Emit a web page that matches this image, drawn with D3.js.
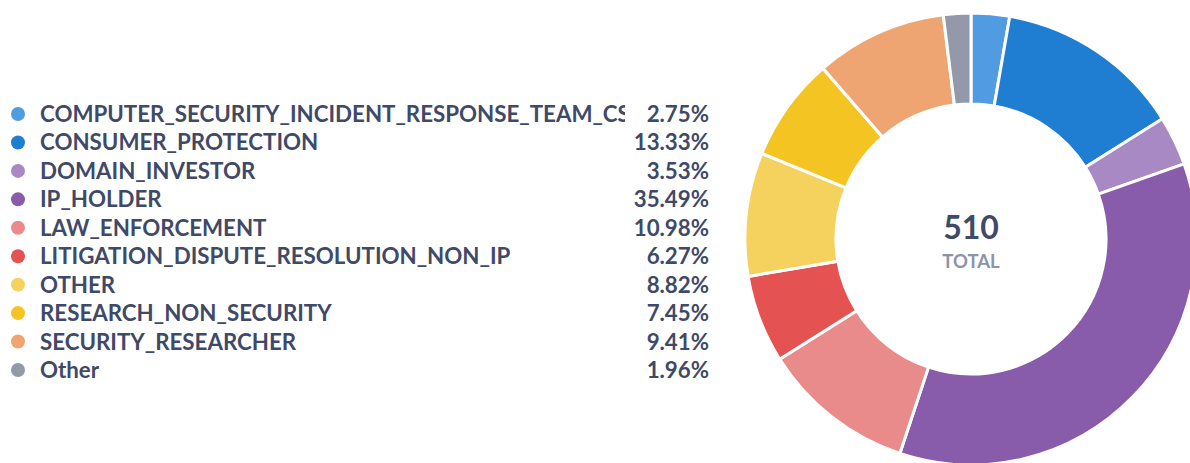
<!DOCTYPE html>
<html>
<head>
<meta charset="utf-8">
<script src="https://cdn.jsdelivr.net/npm/d3@7"></script>
<style>
  html, body { margin: 0; padding: 0; background: #fff; }
  svg { display: block; font-family: Lato, "Open Sans", sans-serif; }
</style>
</head>
<body>
<div id="chart"></div>
<script>
// categories as shown (first one is cut off in the legend), counts of 510 and shown percentages
const categories = [
  'COMPUTER_SECURITY_INCIDENT_RESPONSE_TEAM_CS',
  'CONSUMER_PROTECTION',
  'DOMAIN_INVESTOR',
  'IP_HOLDER',
  'LAW_ENFORCEMENT',
  'LITIGATION_DISPUTE_RESOLUTION_NON_IP',
  'OTHER',
  'RESEARCH_NON_SECURITY',
  'SECURITY_RESEARCHER',
  'Other'
];
const counts = [14, 68, 18, 181, 56, 32, 45, 38, 48, 10];
const percentLabels = ['2.75%', '13.33%', '3.53%', '35.49%', '10.98%', '6.27%', '8.82%', '7.45%', '9.41%', '1.96%'];
const colors = ['#519be2', '#207ed2', '#a889c4', '#885bab', '#ea8b8b', '#e45252', '#f5d25e', '#f3c422', '#efa571', '#9398ab'];
const totalLabel = 'TOTAL';

const width = 1190, height = 463;
const textColor = '#3f4968';

const svg = d3.select('#chart').append('svg')
  .attr('width', width).attr('height', height);

// ---- Legend ----
const rowY = d3.scalePoint().domain(categories).range([114, 370]);

// long names get cut before the percentage column
svg.append('clipPath').attr('id', 'label-clip')
  .append('rect').attr('x', 0).attr('y', -30).attr('width', 625).attr('height', 60);

const rows = svg.append('g').selectAll('g')
  .data(categories)
  .join('g')
  .attr('transform', d => `translate(0,${rowY(d)})`);

rows.append('circle')
  .attr('cx', 18).attr('cy', 0).attr('r', 7)
  .attr('fill', (d, i) => colors[i]);

rows.append('text')
  .attr('x', 40).attr('dy', '0.36em')
  .attr('clip-path', 'url(#label-clip)')
  .attr('fill', textColor)
  .attr('font-size', 22.3)
  .attr('font-weight', 700)
  .text(d => d);

rows.append('text')
  .attr('x', 709).attr('dy', '0.36em')
  .attr('text-anchor', 'end')
  .attr('fill', textColor)
  .attr('font-size', 22.3)
  .attr('font-weight', 700)
  .text((d, i) => percentLabels[i]);

// ---- Donut ----
const cx = 971, cy = 239, outerR = 226, innerR = 135;

const pie = d3.pie().sort(null).value(d => d.value);
const arc = d3.arc().innerRadius(innerR).outerRadius(outerR);
const slices = pie(categories.map((c, i) => ({ name: c, value: counts[i] })));

const donut = svg.append('g').attr('transform', `translate(${cx},${cy})`);
donut.selectAll('path')
  .data(slices)
  .join('path')
  .attr('d', arc)
  .attr('fill', (d, i) => colors[i])
  .attr('stroke', '#fff')
  .attr('stroke-width', 3)
  .attr('stroke-linejoin', 'miter');

donut.append('text')
  .attr('y', 0)
  .attr('text-anchor', 'middle')
  .attr('fill', textColor)
  .attr('font-size', 32)
  .attr('font-weight', 700)
  .text(d3.sum(counts));

donut.append('text')
  .attr('y', 29)
  .attr('text-anchor', 'middle')
  .attr('fill', '#8c93aa')
  .attr('font-size', 18.5)
  .attr('font-weight', 700)
  .text(totalLabel);
</script>
</body>
</html>
